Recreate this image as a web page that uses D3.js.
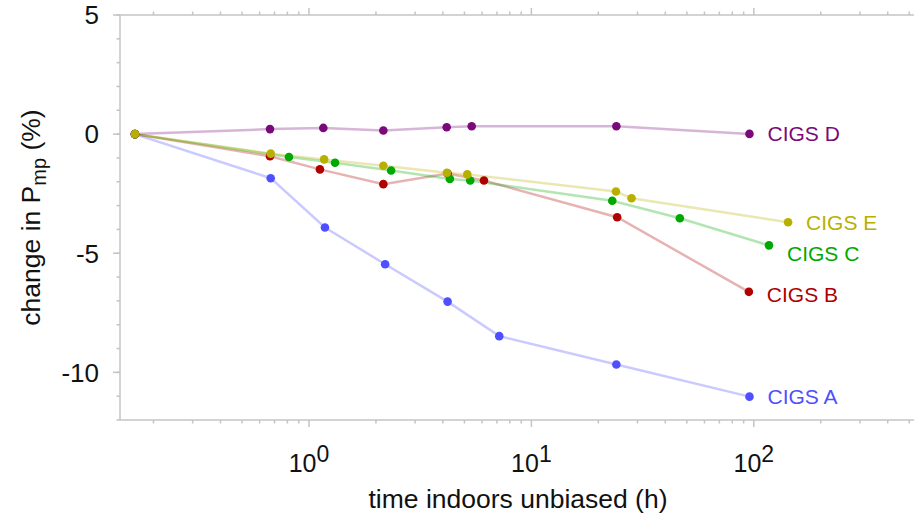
<!DOCTYPE html>
<html>
<head>
<meta charset="utf-8">
<script src="https://cdn.jsdelivr.net/npm/d3@7"></script>
<style>
  body { margin: 0; background: #fff; }
  text { font-family: "Liberation Sans", Arial, Helvetica, sans-serif; }
</style>
</head>
<body>
<div id="chart"></div>
<script>
// series data (time in h, change in Pmp in %)
const seriesNames = ["CIGS A", "CIGS B", "CIGS C", "CIGS D", "CIGS E"];
const timeA = [0.165, 0.673, 1.18, 2.2, 4.2, 7.17, 24.1, 95.6];
const pmpA  = [0, -1.85, -3.92, -5.46, -7.03, -8.48, -9.67, -11.02];
const timeB = [0.165, 0.668, 1.12, 2.16, 4.2, 6.12, 24.3, 95];
const pmpB  = [0, -0.93, -1.48, -2.1, -1.65, -1.95, -3.49, -6.62];
const timeC = [0.165, 0.813, 1.31, 2.34, 4.3, 5.31, 23.1, 46.5, 117];
const pmpC  = [0, -0.96, -1.2, -1.53, -1.88, -1.95, -2.8, -3.53, -4.67];
const timeD = [0.165, 0.668, 1.16, 2.16, 4.16, 5.39, 24.1, 95.6];
const pmpD  = [0, 0.21, 0.26, 0.15, 0.29, 0.33, 0.33, 0.01];
const timeE = [0.165, 0.673, 1.17, 2.16, 4.17, 5.15, 24.0, 28.2, 142.6];
const pmpE  = [0, -0.82, -1.06, -1.33, -1.62, -1.69, -2.41, -2.69, -3.7];

const yMajorTicks = [-10, -5, 0, 5];
const xMajorTicks = [1, 10, 100];
const xTickExponents = ["0", "1", "2"];

const colors = ["#4f4fff", "#b00000", "#00a800", "#7a0a7a", "#b8b000"];
const labelDy = [0, 3, 8, 0, 0];

const series = seriesNames.map((name, i) => {
    const t = [timeA, timeB, timeC, timeD, timeE][i];
    const p = [pmpA, pmpB, pmpC, pmpD, pmpE][i];
    return { name, color: colors[i], dy: labelDy[i], points: t.map((x, j) => ({ x, y: p[j] })) };
});

const width = 915, height = 519;
const mLeft = 120, mRight = 914, mTop = 15, mBottom = 420;
const axisColor = "#c4c4c4";

const svg = d3.select("#chart").append("svg")
    .attr("width", width)
    .attr("height", height);

const xscale = d3.scaleLog().domain([0.1414, 525]).range([mLeft, mRight]);
const yscale = d3.scaleLinear().domain([-12, 5]).range([mBottom, mTop]);

// minor ticks
const xMinor = [];
[0.1, 1, 10, 100].forEach(dec => {
    for (let k = 2; k <= 9; k++) {
        const v = dec * k;
        if (v > 0.1414 && v < 525) xMinor.push(v);
    }
});
const yMinor = d3.range(-12, 6);

const axes = svg.append("g").attr("stroke", axisColor).attr("stroke-width", 1.5);

// frame lines (left, bottom, top)
axes.append("line").attr("x1", mLeft).attr("x2", mLeft).attr("y1", mTop).attr("y2", mBottom);
axes.append("line").attr("x1", mLeft).attr("x2", mRight).attr("y1", mBottom).attr("y2", mBottom);
axes.append("line").attr("x1", mLeft).attr("x2", mRight).attr("y1", mTop).attr("y2", mTop);

axes.selectAll(".ymin").data(yMinor).enter().append("line")
    .attr("x1", mLeft - 3.5).attr("x2", mLeft)
    .attr("y1", d => yscale(d)).attr("y2", d => yscale(d));
axes.selectAll(".ymaj").data(yMajorTicks).enter().append("line")
    .attr("x1", mLeft - 7).attr("x2", mLeft)
    .attr("y1", d => yscale(d)).attr("y2", d => yscale(d));

[mBottom, mTop].forEach(yy => {
    const dir = yy === mBottom ? 1 : -1;
    axes.selectAll(null).data(xMinor).enter().append("line")
        .attr("x1", d => xscale(d)).attr("x2", d => xscale(d))
        .attr("y1", yy).attr("y2", yy + dir * 3.5);
    axes.selectAll(null).data(xMajorTicks).enter().append("line")
        .attr("x1", d => xscale(d)).attr("x2", d => xscale(d))
        .attr("y1", yy).attr("y2", yy + dir * 7);
});

// tick labels
svg.selectAll(".ylab").data(yMajorTicks).enter().append("text")
    .attr("x", 99)
    .attr("y", d => yscale(d))
    .attr("dy", "0.36em")
    .attr("text-anchor", "end")
    .style("font-size", "26px")
    .attr("fill", "#111")
    .text(d => d);

xMajorTicks.forEach((v, i) => {
    const t = svg.append("text")
        .attr("x", xscale(v))
        .attr("y", 472)
        .attr("text-anchor", "middle")
        .attr("fill", "#111")
        .style("font-size", "25px");
    t.append("tspan").text("10");
    t.append("tspan").attr("dy", -10).style("font-size", "23px").text(xTickExponents[i]);
});

// axis titles
svg.append("text")
    .attr("x", 518)
    .attr("y", 508)
    .attr("text-anchor", "middle")
    .attr("fill", "#111")
    .style("font-size", "26.5px")
    .text("time indoors unbiased (h)");

const ylab = svg.append("text")
    .attr("transform", `translate(40, ${(mTop + mBottom) / 2}) rotate(-90)`)
    .attr("text-anchor", "middle")
    .attr("fill", "#111")
    .style("font-size", "26.5px");
ylab.append("tspan").text("change in P");
ylab.append("tspan").attr("dy", 6).style("font-size", "20px").text("mp");
ylab.append("tspan").attr("dy", -6).text(" (%)");

// lines and markers
const line = d3.line().x(d => xscale(d.x)).y(d => yscale(d.y));

series.forEach(s => {
    svg.append("path")
        .datum(s.points)
        .attr("d", line)
        .attr("fill", "none")
        .attr("stroke", s.color)
        .attr("stroke-opacity", 0.3)
        .attr("stroke-width", 2.5);
});

series.forEach(s => {
    svg.append("g").selectAll("circle")
        .data(s.points)
        .enter()
        .append("circle")
        .attr("cx", d => xscale(d.x))
        .attr("cy", d => yscale(d.y))
        .attr("r", 4.3)
        .attr("fill", s.color);

    const last = s.points[s.points.length - 1];
    svg.append("text")
        .attr("x", xscale(last.x) + 18)
        .attr("y", yscale(last.y) + s.dy)
        .attr("dy", "0.36em")
        .attr("fill", s.color)
        .style("font-size", "21px")
        .text(s.name);
});
</script>
</body>
</html>
